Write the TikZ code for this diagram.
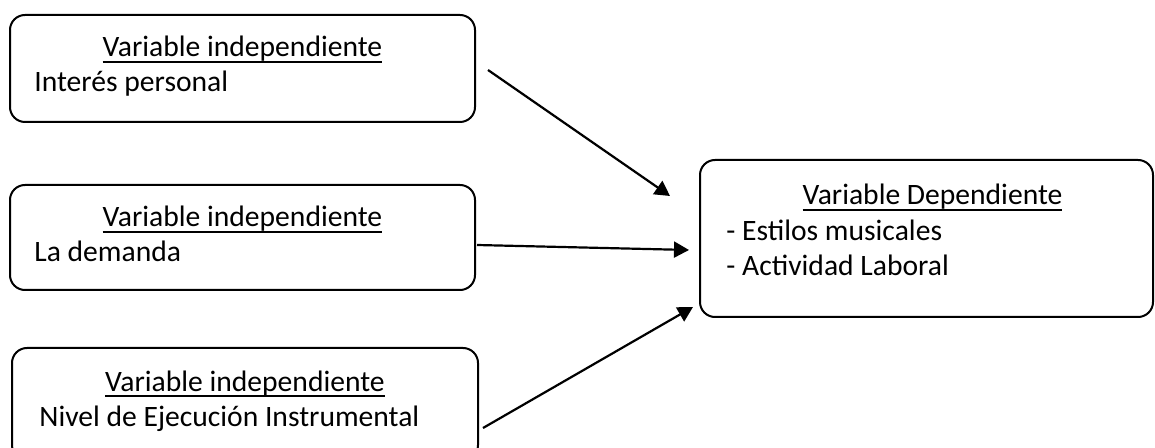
\documentclass[tikz,border=0pt]{standalone}
\usepackage{fontspec}
\setmainfont{Carlito}
\usetikzlibrary{arrows.meta, positioning, calc}

\newcommand{\vunder}[1]{\leavevmode\setbox0=\hbox{#1}\rlap{\rule[-3pt]{\wd0}{0.9pt}}\box0}

\tikzset{
  varbox/.style={draw, line width=1pt, rounded corners=7.5pt, inner sep=0pt},
  vartitle/.style={anchor=base, inner sep=0pt},
  varitem/.style={anchor=base west, inner sep=0pt},
  link/.style={line width=1.1pt, -{Triangle[length=7.5pt, width=8pt]}}
}

\begin{document}
\begin{tikzpicture}[x=0.5pt, y=-0.5pt, font=\fontsize{14.8}{17.5}\selectfont]
    \useasboundingbox (0,0) rectangle (1155,448);
    \clip (0,0) rectangle (1155,448);
    % independent variables
    \node[varbox, minimum width=232.5pt, minimum height=53.5pt] (ind1) at (242.5,68.5) {};
    \node[varbox, minimum width=232.5pt, minimum height=52.5pt] (ind2) at (242.5,237.5) {};
    \node[varbox, minimum width=233pt, minimum height=56pt] (ind3) at (245,404) {};
    \node[vartitle] (ind1 title) at ($(ind1.north)+(0,43)$) {\vunder{Variable independiente}};
    \node[varitem] (ind1 text) at ($(ind1.north west)+(25,78)$) {Interés personal};
    \node[vartitle] (ind2 title) at ($(ind2.north)+(0,43)$) {\vunder{Variable independiente}};
    \node[varitem] (ind2 text) at ($(ind2.north west)+(25,78)$) {La demanda};
    \node[vartitle] (ind3 title) at ($(ind3.north)+(0,44)$) {\vunder{Variable independiente}};
    \node[varitem] (ind3 text) at ($(ind3.north west)+(28,79)$) {Nivel de Ejecución Instrumental};
    % dependent variable
    \node[varbox, minimum width=226.5pt, minimum height=78.5pt] (dep) at (926.5,238.5) {};
    \node[vartitle] (dep title) at ($(dep.north)+(6,46)$) {\vunder{Variable Dependiente}};
    \node[varitem] (dep item1) at ($(dep.north west)+(27,82)$) {- Estilos musicales};
    \node[varitem] (dep item2) at ($(dep.north west)+(27,117)$) {- Actividad Laboral};
    % arrows
    \coordinate (ind1 out) at ($(ind1.east)+(12,1.5)$);
    \coordinate (ind2 out) at ($(ind2.east)+(1,7.5)$);
    \coordinate (ind3 out) at ($(ind3.east)+(4,24)$);
    \coordinate (dep in1) at ($(dep.west)+(-29,-42.5)$);
    \coordinate (dep in2) at ($(dep.west)+(-10,11.5)$);
    \coordinate (dep in3) at ($(dep.west)+(-6,68.5)$);
    \draw[link] (ind1 out) -- (dep in1);
    \draw[link] (ind2 out) -- (dep in2);
    \draw[link] (ind3 out) -- (dep in3);
\end{tikzpicture}
\end{document}
